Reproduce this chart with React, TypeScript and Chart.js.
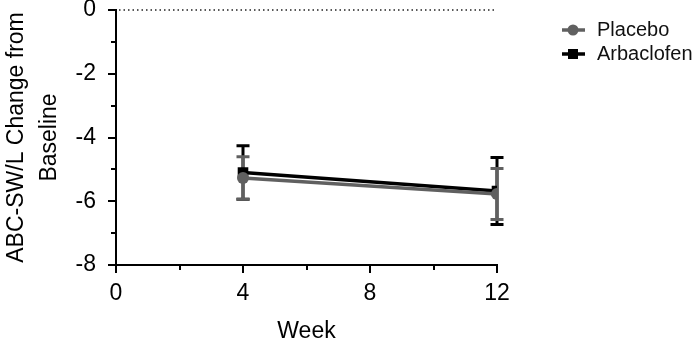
import React, { useEffect, useRef } from "react";
import { Chart, registerables } from "chart.js";

Chart.register(...registerables);

const weeks = [4, 12];
const placeboMean = [-5.27, -5.77];
const placeboSem = [0.67, 0.8];
const arbaclofenMean = [-5.1, -5.68];
const arbaclofenSem = [0.84, 1.05];
const seriesNames = ["Placebo", "Arbaclofen"];
const xLabelTicks = [0, 4, 8, 12];
const yLabelTicks = [-8, -6, -4, -2, 0];

const FONT = "'Liberation Sans', Arial, sans-serif";
const GRAY = "#606060";
const BLACK = "#000000";

const overlay = {
  id: "overlay",
  beforeDatasetsDraw(chart: any) {
    const { ctx, chartArea, scales } = chart;
    const x = scales.x;
    const y = scales.y;
    ctx.save();
    // dotted zero line
    const y0 = y.getPixelForValue(0);
    ctx.strokeStyle = "#222";
    ctx.lineWidth = 1.5;
    ctx.setLineDash([1.5, 3]);
    ctx.beginPath();
    ctx.moveTo(chartArea.left + 3, y0);
    ctx.lineTo(chartArea.right, y0);
    ctx.stroke();
    ctx.setLineDash([]);
    // error bars: arbaclofen first, placebo on top
    const bars = [
      { mean: arbaclofenMean, sem: arbaclofenSem, color: BLACK },
      { mean: placeboMean, sem: placeboSem, color: GRAY },
    ];
    bars.forEach((b) => {
      ctx.strokeStyle = b.color;
      ctx.lineWidth = 3;
      weeks.forEach((w, i) => {
        const px = x.getPixelForValue(w);
        const top = y.getPixelForValue(b.mean[i] + b.sem[i]);
        const bot = y.getPixelForValue(b.mean[i] - b.sem[i]);
        ctx.beginPath();
        ctx.moveTo(px, top);
        ctx.lineTo(px, bot);
        ctx.moveTo(px - 6.5, top);
        ctx.lineTo(px + 6.5, top);
        ctx.moveTo(px - 6.5, bot);
        ctx.lineTo(px + 6.5, bot);
        ctx.stroke();
      });
    });
    ctx.restore();
  },
  afterDraw(chart: any) {
    const { ctx, chartArea, scales } = chart;
    const x = scales.x;
    const y = scales.y;
    ctx.save();
    ctx.strokeStyle = BLACK;
    ctx.lineWidth = 2;
    // y ticks
    y.ticks.forEach((t: any) => {
      const py = Math.round(y.getPixelForValue(t.value));
      const len = yLabelTicks.includes(t.value) ? 8 : 5;
      ctx.beginPath();
      ctx.moveTo(chartArea.left - len, py);
      ctx.lineTo(chartArea.left, py);
      ctx.stroke();
    });
    // x ticks
    x.ticks.forEach((t: any) => {
      const px = Math.round(x.getPixelForValue(t.value));
      const len = xLabelTicks.includes(t.value) ? 8 : 5;
      ctx.beginPath();
      ctx.moveTo(px, chartArea.bottom);
      ctx.lineTo(px, chartArea.bottom + len);
      ctx.stroke();
    });
    // legend
    const lx = chartArea.right + 65;
    const items = [
      { name: seriesNames[0], color: GRAY, style: "circle", yy: 30 },
      { name: seriesNames[1], color: BLACK, style: "rect", yy: 54 },
    ];
    items.forEach((it) => {
      ctx.strokeStyle = it.color;
      ctx.fillStyle = it.color;
      ctx.lineWidth = 3.5;
      ctx.beginPath();
      ctx.moveTo(lx, it.yy);
      ctx.lineTo(lx + 23, it.yy);
      ctx.stroke();
      if (it.style === "circle") {
        ctx.beginPath();
        ctx.arc(lx + 11, it.yy, 5.5, 0, Math.PI * 2);
        ctx.fill();
      } else {
        ctx.fillRect(lx + 6, it.yy - 5, 10, 10);
      }
      ctx.fillStyle = "#111";
      ctx.font = `20px ${FONT}`;
      ctx.textBaseline = "middle";
      ctx.textAlign = "left";
      ctx.fillText(it.name, lx + 35, it.yy);
    });
    ctx.restore();
  },
};

export default function App() {
  const ref = useRef<HTMLCanvasElement>(null);
  useEffect(() => {
    document.body.style.margin = "0";
    const chart = new Chart(ref.current!, {
      type: "line",
      data: {
        datasets: [
          {
            label: seriesNames[0],
            data: weeks.map((w, i) => ({ x: w, y: placeboMean[i] })),
            borderColor: GRAY,
            backgroundColor: GRAY,
            borderWidth: 3.5,
            pointStyle: "circle",
            pointRadius: 6,
            pointBorderWidth: 0,
          },
          {
            label: seriesNames[1],
            data: weeks.map((w, i) => ({ x: w, y: arbaclofenMean[i] })),
            borderColor: BLACK,
            backgroundColor: BLACK,
            borderWidth: 3.5,
            pointStyle: "rect",
            pointRadius: 7.5,
            pointBorderWidth: 0,
          },
        ],
      },
      options: {
        animation: false,
        responsive: false,
        maintainAspectRatio: false,
        layout: { padding: { top: 10, right: 198, left: 0, bottom: 0 } },
        plugins: { legend: { display: false }, tooltip: { enabled: false } },
        scales: {
          x: {
            type: "linear",
            min: 0,
            max: 12,
            ticks: {
              stepSize: 2,
              padding: 15,
              color: "#000",
              font: { family: FONT, size: 23 },
              maxRotation: 0,
              callback: (v: any) => (xLabelTicks.includes(v) ? String(v) : ""),
            },
            grid: { display: false, drawTicks: false },
            border: { display: true, color: BLACK, width: 2 },
            title: {
              display: true,
              text: "Week",
              color: "#000",
              font: { family: FONT, size: 23 },
              padding: { top: 0, bottom: 0 },
            },
            afterFit: (s: any) => {
              s.height = 80;
              s.paddingLeft = 0;
              s.paddingRight = 0;
            },
          },
          y: {
            type: "linear",
            min: -8,
            max: 0,
            ticks: {
              stepSize: 1,
              padding: 20,
              color: "#000",
              font: { family: FONT, size: 23 },
              callback: (v: any) => (yLabelTicks.includes(v) ? String(v) : ""),
            },
            grid: { display: false, drawTicks: false },
            border: { display: true, color: BLACK, width: 2 },
            title: {
              display: true,
              text: ["ABC-SW/L Change from", "Baseline"],
              color: "#000",
              font: { family: FONT, size: 23, lineHeight: 1.4 },
              padding: { top: 1, bottom: 0 },
            },
            afterFit: (s: any) => {
              s.width = 116;
              s.paddingTop = 0;
              s.paddingBottom = 0;
            },
          },
        },
      },
      plugins: [overlay],
    });
    return () => chart.destroy();
  }, []);
  return (
    <div style={{ width: 695, height: 345 }}>
      <canvas ref={ref} width={695} height={345} style={{ width: 695, height: 345 }} />
    </div>
  );
}
